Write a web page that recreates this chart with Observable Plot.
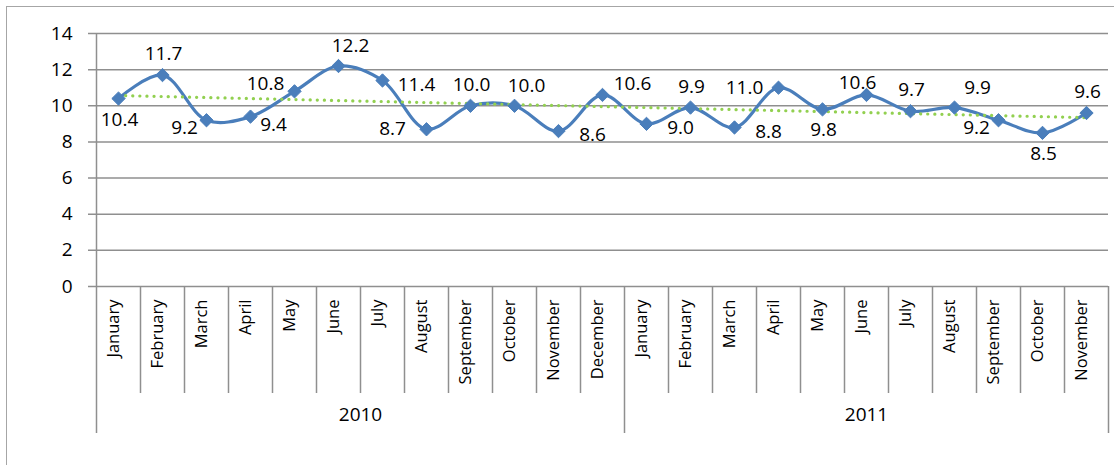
<!DOCTYPE html>
<html>
<head>
<meta charset="utf-8">
<script src="https://cdn.jsdelivr.net/npm/d3@7"></script>
<script src="https://cdn.jsdelivr.net/npm/@observablehq/plot@0.6"></script>
<style>
  html, body { margin: 0; padding: 0; background: #fff; }
  #wrap { position: relative; width: 1114px; height: 465px; overflow: hidden; }
  #border { position: absolute; left: 6px; top: 6px; width: 1120px; height: 480px;
            border: 1.5px solid #a6a6a6; box-sizing: border-box; }
  #chart { position: absolute; left: 0; top: 0; }
</style>
</head>
<body>
<div id="wrap"><div id="border"></div><div id="chart"></div></div>
<script>
const months = ["January","February","March","April","May","June","July","August","September","October","November","December",
                "January","February","March","April","May","June","July","August","September","October","November"];
const years = ["2010","2010","2010","2010","2010","2010","2010","2010","2010","2010","2010","2010",
               "2011","2011","2011","2011","2011","2011","2011","2011","2011","2011","2011"];
const values = [10.4, 11.7, 9.2, 9.4, 10.8, 12.2, 11.4, 8.7, 10.0, 10.0, 8.6, 10.6,
                9.0, 9.9, 8.8, 11.0, 9.8, 10.6, 9.7, 9.9, 9.2, 8.5, 9.6];
const labelPlace = ["below","above","belowL","belowR","aboveL2","aboveR1","right","left","above","aboveR1","right","rightUp",
                    "right","above","right","left","below","aboveL1","above","aboveR2","belowL","below","above"];
const yTicks = [0, 2, 4, 6, 8, 10, 12, 14];

const placeOffsets = {
  above: [1, -21], below: [1, 21], left: [-34, 0], right: [34, 4],
  aboveL1: [-9, -12], aboveL2: [-29, -7], aboveR1: [12, -20], aboveR2: [23, -20],
  rightUp: [30, -11], belowL: [-22, 8], belowR: [23, 8]
};

const data = values.map((v, i) => ({i, month: months[i], year: years[i], value: v, place: labelPlace[i]}));
const yearNames = Array.from(new Set(years));
const yearGroups = yearNames.map(y => {
  const idx = data.filter(d => d.year === y).map(d => d.i);
  return {year: y, start: d3.min(idx) - 0.5, end: d3.max(idx) + 0.5};
});
const yearBounds = Array.from(new Set(yearGroups.flatMap(g => [g.start, g.end])));
const monthBounds = data.slice(1).map(d => d.i - 0.5).filter(b => !yearBounds.includes(b));

const gridColor = "#8f8f8f";
const blue = "#4a7ebb";
const textColor = "#000";

const labelMarks = Object.entries(placeOffsets).map(([name, [dx, dy]]) =>
  Plot.text(data.filter(d => d.place === name), {
    x: "i", y: "value", text: d => d.value.toFixed(1), dx, dy,
    fontSize: 19, fill: textColor
  })
);

const chart = Plot.plot({
  width: 1114,
  height: 465,
  marginLeft: 96,
  marginRight: 6,
  marginTop: 33,
  marginBottom: 179,
  style: {fontFamily: "'Open Sans', sans-serif", fontSize: "18px", background: "transparent", overflow: "visible"},
  x: {type: "linear", domain: [-0.5, 22.5], axis: null},
  y: {domain: [0, 14], axis: null},
  marks: [
    Plot.ruleY(yTicks, {x1: -0.5, x2: 22.5, insetLeft: -8, stroke: gridColor, strokeWidth: 1.5}),
    Plot.ruleX([yearBounds[0]], {stroke: gridColor, strokeWidth: 1.5}),
    Plot.text(yTicks, {y: d => d, frameAnchor: "left", dx: -24, textAnchor: "end", fontSize: 19, fill: textColor}),
    Plot.ruleX(monthBounds, {x: d => d, insetTop: 253, insetBottom: -107, stroke: gridColor, strokeWidth: 1.5}),
    Plot.ruleX(yearBounds, {x: d => d, insetTop: 253, insetBottom: -147, stroke: gridColor, strokeWidth: 1.5}),
    Plot.text(data, {x: "i", text: "month", frameAnchor: "bottom", dy: 13, rotate: -90, textAnchor: "end", fontSize: 16.5, fill: textColor}),
    Plot.text(yearGroups, {x: d => (d.start + d.end) / 2, text: "year", frameAnchor: "bottom", dy: 134, fontSize: 19, fill: textColor}),
    Plot.line(data, {x: "i", y: "value", curve: "catmull-rom", stroke: blue, strokeWidth: 3.2}),
    Plot.linearRegressionY(data, {x: "i", y: "value", ci: 0, stroke: "#92d050", strokeWidth: 3.2, strokeDasharray: "0.1,7", strokeLinecap: "round"}),
    Plot.dot(data, {x: "i", y: "value", symbol: "diamond2", r: 6, fill: blue, stroke: blue, strokeWidth: 1}),
    ...labelMarks
  ]
});
document.getElementById("chart").appendChild(chart);
</script>
</body>
</html>
